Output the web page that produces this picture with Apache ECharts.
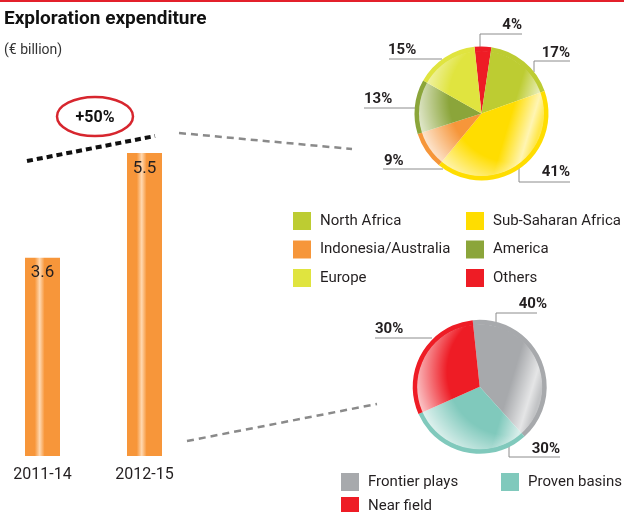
<!DOCTYPE html>
<html>
<head>
<meta charset="utf-8">
<script src="https://cdn.jsdelivr.net/npm/echarts@6/dist/echarts.min.js"></script>
<style>html,body{margin:0;padding:0;background:#fff}#c{width:624px;height:512px}</style>
</head>
<body>
<div id="c"></div>
<script>
// ---- data ----
var periods = ['2011-14', '2012-15'];
var spending = [3.6, 5.5];

var regionNames = ['Others', 'North Africa', 'Sub-Saharan Africa', 'Indonesia/Australia', 'America', 'Europe'];
var regionShares = [4, 17, 41, 9, 13, 15];

var playNames = ['Frontier plays', 'Proven basins', 'Near field'];
var playShares = [40, 30, 30];

var growthLabel = '+50%';

// ---- styles (kept separate from data) ----
var regionColors = ['#EE1C25', '#BDCC32', '#FFDD00', '#F6963A', '#8BA53A', '#E0E43F'];
var playColors = ['#A7A9AC', '#80C9BC', '#EE1C25'];
var FONT = 'Roboto';
var TXT = '#231F20';

// label layout per slice: text anchor + leader polyline
var regionLabelLayout = [
  {x: 522, y: 25, align: 'right', line: [[480, 47], [480, 34], [522, 34]]},
  {x: 570, y: 53, align: 'right', line: [[534, 72], [534, 61], [570, 61]]},
  {x: 570, y: 172, align: 'right', line: [[519, 167], [519, 182], [570, 182]]},
  {x: 384, y: 161, align: 'left', line: [[443, 169], [413, 169], [383, 169]]},
  {x: 364, y: 99, align: 'left', line: [[415, 108], [390, 108], [364, 108]]},
  {x: 388, y: 50, align: 'left', line: [[442, 59], [415, 59], [389, 59]]}
];
var playLabelLayout = [
  {x: 547, y: 304, align: 'right', line: [[496, 322], [496, 313], [537, 313]]},
  {x: 560, y: 449, align: 'right', line: [[509, 440], [509, 457], [560, 457]]},
  {x: 375, y: 329, align: 'left', line: [[432, 338], [404, 338], [375, 338]]}
];

var PIE1_C = [481.5, 113.5];
var PIE2_C = [479.7, 386.8];
var R_OUT = 67, R_IN = 62.5;

function mkData(names, vals, colors) {
  return names.map(function (n, i) {
    return {name: n, value: vals[i], itemStyle: {color: colors[i]}};
  });
}

function ringSeries(center, names, vals, colors, layout) {
  return {
    type: 'pie', center: center, radius: [R_IN - 0.5, R_OUT], startAngle: 96, clockwise: true,
    avoidLabelOverlap: false, emphasis: {disabled: true}, animation: false,
    data: mkData(names, vals, colors),
    label: {
      show: true, fontFamily: FONT, fontWeight: 'bold', fontSize: 15, color: TXT,
      formatter: function (p) { return p.value + '%'; }
    },
    labelLine: {show: true, lineStyle: {color: '#8c8c8c', width: 1}},
    labelLayout: function (p) {
      var L = layout[p.dataIndex];
      return {x: L.x, y: L.y, align: L.align, verticalAlign: 'middle', labelLinePoints: L.line};
    }
  };
}
function innerSeries(center, names, vals, colors) {
  return {
    type: 'pie', center: center, radius: [0, R_IN], startAngle: 96, clockwise: true, silent: true,
    animation: false, data: mkData(names, vals, colors),
    label: {show: false}, labelLine: {show: false}
  };
}
function overlaySeries(center, name, grad) {
  return {
    type: 'pie', center: center, radius: [0, R_IN], silent: true, animation: false, z: 3,
    data: [{name: name, value: 1, itemStyle: {color: grad}}],
    label: {show: false}, labelLine: {show: false}
  };
}
function radialHL() {
  return new echarts.graphic.RadialGradient(0.75, 0.38, 0.85, [
    {offset: 0, color: 'rgba(255,255,255,0)'},
    {offset: 0.6, color: 'rgba(255,255,255,0)'},
    {offset: 1, color: 'rgba(255,255,255,0.95)'}
  ]);
}
function rightHL() {
  return new echarts.graphic.LinearGradient(0, 0.2, 1, 0.5, [
    {offset: 0, color: 'rgba(255,255,255,0)'},
    {offset: 0.76, color: 'rgba(255,255,255,0)'},
    {offset: 0.93, color: 'rgba(255,255,255,0.7)'},
    {offset: 1, color: 'rgba(255,255,255,0.3)'}
  ]);
}

var chart = echarts.init(document.getElementById('c'), null, {renderer: 'canvas'});

var legendBase = {
  orient: 'vertical', icon: 'rect', itemWidth: 18, itemHeight: 18, padding: 0,
  selectedMode: false,
  textStyle: {fontFamily: FONT, fontSize: 15, color: TXT, padding: [0, 0, 0, 4]}
};
function legend(extra) { return Object.assign({}, legendBase, extra); }

var option = {
  animation: false,
  textStyle: {fontFamily: FONT},
  title: [
    {text: 'Exploration expenditure', left: -1, top: 5,
      textStyle: {fontFamily: FONT, fontSize: 19, fontWeight: 'bold', color: '#111'}},
    {text: '(€ billion)', left: -1, top: 38,
      textStyle: {fontFamily: FONT, fontSize: 14, fontWeight: 'normal', color: '#333'}}
  ],
  legend: [
    legend({left: 293, top: 212, itemGap: 10.5, data: ['North Africa', 'Indonesia/Australia', 'Europe']}),
    legend({left: 466, top: 212, itemGap: 10.5, data: ['Sub-Saharan Africa', 'America', 'Others']}),
    legend({left: 341, top: 473, data: ['Frontier plays']}),
    legend({left: 341, top: 497, data: ['Near field']}),
    legend({left: 501, top: 473, data: ['Proven basins']})
  ],
  grid: {left: 42.5, width: 102, top: 125.5, bottom: 56, outerBoundsMode: 'none', containLabel: false},
  xAxis: {
    type: 'category', data: periods, boundaryGap: false,
    axisLine: {show: false}, axisTick: {show: false},
    axisLabel: {fontFamily: FONT, fontSize: 16, color: TXT, margin: 11}
  },
  yAxis: {type: 'value', min: 0, max: 6, show: false, splitLine: {show: false}},
  series: [
    {
      type: 'bar', data: spending, barWidth: 35, silent: true, clip: false,
      itemStyle: {
        color: new echarts.graphic.LinearGradient(0, 0, 1, 0, [
          {offset: 0, color: '#F7963A'},
          {offset: 0.28, color: '#F7963A'},
          {offset: 0.42, color: '#FFD8B0'},
          {offset: 0.56, color: '#F7963A'},
          {offset: 1, color: '#F7963A'}
        ])
      },
      label: {show: true, position: 'insideTop', distance: 7, fontFamily: FONT, fontSize: 17, color: TXT}
    },
    ringSeries(PIE1_C, regionNames, regionShares, regionColors, regionLabelLayout),
    innerSeries(PIE1_C, regionNames, regionShares, regionColors),
    overlaySeries(PIE1_C, '_hl1a', radialHL()),
    overlaySeries(PIE1_C, '_hl1b', rightHL()),
    ringSeries(PIE2_C, playNames, playShares, playColors, playLabelLayout),
    innerSeries(PIE2_C, playNames, playShares, playColors),
    overlaySeries(PIE2_C, '_hl2a', radialHL()),
    overlaySeries(PIE2_C, '_hl2b', rightHL())
  ],
  graphic: [
    {type: 'rect', shape: {x: 0, y: 0, width: 624, height: 2}, style: {fill: '#E3202B'}, silent: true},
    {type: 'ellipse', shape: {cx: 95, cy: 116.5, rx: 38, ry: 19.5},
      style: {fill: 'none', stroke: '#D7262E', lineWidth: 2.5}, silent: true},
    {type: 'text', x: 95, y: 118, silent: true,
      style: {text: growthLabel, fill: '#111', font: 'bold 16px Roboto', align: 'center', verticalAlign: 'middle'}},
    {type: 'line', shape: {x1: 27, y1: 161, x2: 155, y2: 136},
      style: {stroke: '#111', lineWidth: 4, lineDash: [6, 4]}, silent: true},
    {type: 'line', shape: {x1: 179, y1: 133, x2: 352, y2: 149},
      style: {stroke: '#8a8a8a', lineWidth: 2.5, lineDash: [7, 5]}, silent: true},
    {type: 'line', shape: {x1: 187, y1: 441, x2: 377, y2: 404},
      style: {stroke: '#8a8a8a', lineWidth: 2.5, lineDash: [7, 5]}, silent: true}
  ]
};
chart.setOption(option);
</script>
</body>
</html>
